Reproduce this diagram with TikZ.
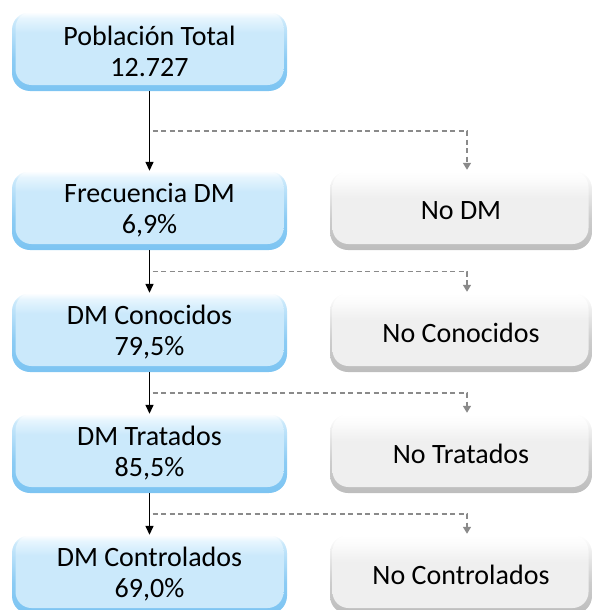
\documentclass[tikz,border=0pt]{standalone}
\usepackage{fontspec}
\setmainfont{Carlito}
\usetikzlibrary{arrows.meta,calc}
\definecolor{bdark}{HTML}{7CC4F2}
\definecolor{bmid}{HTML}{CBE9FB}
\definecolor{btop}{HTML}{E6F5FE}
\definecolor{gdark}{HTML}{BDBDBD}
\definecolor{gmid}{HTML}{EFEFEF}
\definecolor{gtop}{HTML}{FCFCFC}
\definecolor{dashgray}{HTML}{8A8A8A}
\pgfdeclareverticalshading{blueouter}{100bp}{color(0bp)=(bdark); color(25bp)=(bdark); color(45bp)=(bdark!80!bmid); color(70bp)=(bmid); color(75bp)=(white); color(100bp)=(white)}
\pgfdeclareverticalshading{grayouter}{100bp}{color(0bp)=(gdark); color(25bp)=(gdark); color(45bp)=(gdark!70!gmid); color(70bp)=(gmid!50!white); color(75bp)=(white); color(100bp)=(white)}
\pgfdeclareverticalshading{blueshade}{100bp}{color(0bp)=(bmid); color(25bp)=(bmid); color(62bp)=(bmid); color(71bp)=(btop); color(75bp)=(white); color(100bp)=(white)}
\pgfdeclareverticalshading{grayshade}{100bp}{color(0bp)=(gmid); color(25bp)=(gmid); color(58bp)=(gmid); color(70bp)=(gtop); color(75bp)=(white); color(100bp)=(white)}
\tikzset{
  boxbase/.style={minimum width=#1, minimum height=79pt, inner sep=0pt,
    rounded corners=18pt, align=center, font=\fontsize{28}{31}\selectfont},
  bluebox/.style={boxbase=275pt, shading=blueouter, path picture={
    \shade[shading=blueshade, rounded corners=16pt]
      ($(path picture bounding box.south west)+(3.5pt,6pt)$) rectangle
      ($(path picture bounding box.north east)+(-3.5pt,0pt)$);}},
  graybox/.style={boxbase=262pt, shading=grayouter, path picture={
    \shade[shading=grayshade, rounded corners=16pt]
      ($(path picture bounding box.south west)+(2.5pt,6pt)$) rectangle
      ($(path picture bounding box.north east)+(-3.5pt,0pt)$);}},
  solidarrow/.style={line width=1.4pt, black, -{Triangle[length=9pt,width=8pt]}},
  dasharrow/.style={line width=1.4pt, dashgray, dash pattern=on 5pt off 3.5pt,
    -{Triangle[length=7pt,width=8pt]}},
}
\begin{document}
\begin{tikzpicture}[x=1pt,y=1pt]
\useasboundingbox (0,0) rectangle (593,-610);
\node[bluebox] (b1) at (149.5,-51.5) {Población Total\\12.727};
\node[bluebox] (b2) at (149.5,-210.5) {Frecuencia DM\\6,9\%};
\node[bluebox] (b3) at (149.5,-332.5) {DM Conocidos\\79,5\%};
\node[bluebox] (b4) at (149.5,-453.5) {DM Tratados\\85,5\%};
\node[bluebox] (b5) at (149.5,-574.5) {DM Controlados\\69,0\%};
\node[graybox] (g1) at (461,-210.5) {No DM};
\node[graybox] (g2) at (461,-332.5) {No Conocidos};
\node[graybox] (g3) at (461,-453.5) {No Tratados};
\node[graybox] (g4) at (461,-574.5) {No Controlados};
\draw[solidarrow] (b1) -- (b2);
\draw[solidarrow] (b2) -- (b3);
\draw[solidarrow] (b3) -- (b4);
\draw[solidarrow] (b4) -- (b5);
\coordinate (m1) at ($(b1.south)!0.5!(b2.north)$);
\coordinate (m2) at ($(b2.south)!0.5!(b3.north)$);
\coordinate (m3) at ($(b3.south)!0.5!(b4.north)$);
\coordinate (m4) at ($(b4.south)!0.5!(b5.north)$);
\draw[dasharrow] ([xshift=3pt]m1) -| ([xshift=6pt,yshift=1pt]g1.north);
\draw[dasharrow] ([xshift=3pt]m2) -| ([xshift=6pt,yshift=1pt]g2.north);
\draw[dasharrow] ([xshift=3pt]m3) -| ([xshift=6pt,yshift=1pt]g3.north);
\draw[dasharrow] ([xshift=3pt]m4) -| ([xshift=6pt,yshift=1pt]g4.north);
\end{tikzpicture}
\end{document}
